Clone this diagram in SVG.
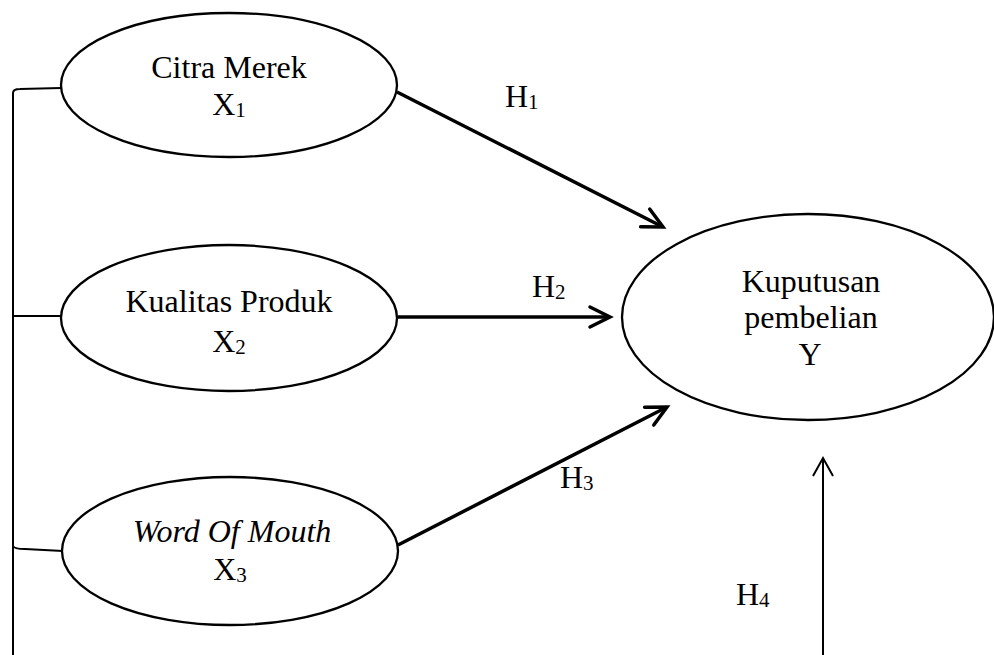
<svg xmlns="http://www.w3.org/2000/svg" width="994" height="655" viewBox="0 0 994 655">
<style>
.node ellipse{fill:#fff;stroke:#000;stroke-width:2.3}
.t{font-family:"Liberation Serif","Times New Roman",serif;font-size:32px;fill:#000;text-anchor:middle}
.h{font-family:"Liberation Serif","Times New Roman",serif;font-size:32px;fill:#000}
.sub{font-size:21px}
.thick{stroke:#000;stroke-width:3.5;fill:none}
.thin{stroke:#000;stroke-width:2;fill:none}
</style>
<defs>
<marker id="ah" viewBox="-24 -14 28 28" markerWidth="28" markerHeight="28" refX="0" refY="0" orient="auto" markerUnits="userSpaceOnUse">
<path d="M-20,-10 L0,0 L-20,10" fill="none" stroke="#000" stroke-width="3.5" stroke-linecap="round" stroke-linejoin="miter"/>
</marker>
<marker id="ah2" viewBox="-22 -14 26 28" markerWidth="26" markerHeight="28" refX="0" refY="0" orient="auto" markerUnits="userSpaceOnUse">
<path d="M-18,-10 L0,0 L-18,10" fill="none" stroke="#000" stroke-width="2" stroke-linejoin="miter"/>
</marker>
</defs>
<g id="connectors">
<path class="thin" d="M13,655 L13,93 Q13,89 20,89 L61,88"/>
<path class="thin" d="M13,316 L61,316"/>
<path class="thin" d="M13,546 Q14,549 25,549 L63,551"/>
<path class="thick" d="M397,92 L663,227" marker-end="url(#ah)"/>
<path class="thick" d="M398,317 L610,317" marker-end="url(#ah)"/>
<path class="thick" d="M398,545 L667,407" marker-end="url(#ah)"/>
<path class="thin" d="M823,655 L823,458" marker-end="url(#ah2)"/>
<text class="h" x="505" y="107">H<tspan class="sub" dy="2">1</tspan></text>
<text class="h" x="532" y="297">H<tspan class="sub" dy="2">2</tspan></text>
<text class="h" x="560" y="488">H<tspan class="sub" dy="2">3</tspan></text>
<text class="h" x="736" y="605">H<tspan class="sub" dy="2">4</tspan></text>
</g>
<g id="x1" class="node">
<ellipse cx="229" cy="85" rx="168" ry="72"/>
<text class="t" x="229" y="78">Citra Merek</text>
<text class="t" x="229" y="115">X<tspan class="sub" dy="2">1</tspan></text>
</g>
<g id="x2" class="node">
<ellipse cx="229" cy="318" rx="168" ry="73"/>
<text class="t" x="229" y="312">Kualitas Produk</text>
<text class="t" x="229" y="352">X<tspan class="sub" dy="2">2</tspan></text>
</g>
<g id="x3" class="node">
<ellipse cx="230" cy="551" rx="168" ry="74"/>
<text class="t" x="232" y="542" font-style="italic">Word Of Mouth</text>
<text class="t" x="230" y="580">X<tspan class="sub" dy="2">3</tspan></text>
</g>
<g id="y" class="node">
<ellipse cx="808" cy="317" rx="186" ry="103"/>
<text class="t" x="811" y="292">Kuputusan</text>
<text class="t" x="811" y="328">pembelian</text>
<text class="t" x="810" y="365">Y</text>
</g>
</svg>
